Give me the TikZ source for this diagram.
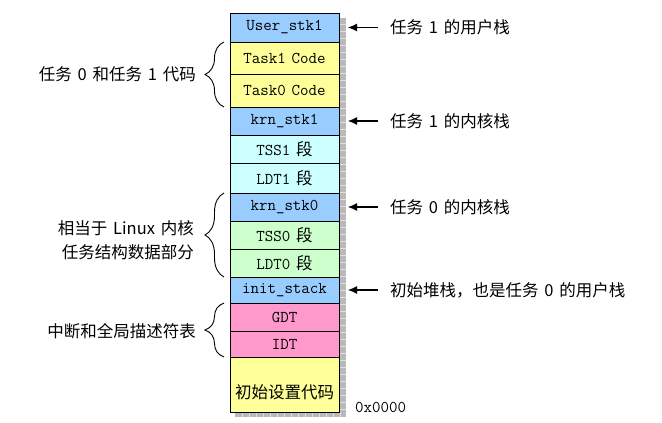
\documentclass[tikz,border=0pt]{standalone}
\usepackage{fontspec}
\setmainfont{Noto Sans CJK SC}
\newfontfamily\monofont{Latin Modern Mono}
\usetikzlibrary{positioning, arrows.meta, decorations.pathreplacing}
\definecolor{stkblue}{RGB}{153,204,255}
\definecolor{codeyellow}{RGB}{255,255,153}
\definecolor{segcyan}{RGB}{204,255,255}
\definecolor{seggreen}{RGB}{204,255,204}
\definecolor{tabpink}{RGB}{255,153,204}
\newcommand{\mono}[1]{{\monofont #1}}
\newcommand{\txtsize}{\fontsize{16.5}{20}\selectfont\spaceskip=0.35em\relax}
\newcommand{\twosize}{\fontsize{16.5}{24}\selectfont\spaceskip=0.35em\relax}

\begin{document}
\begin{tikzpicture}[x=1pt, y=-1pt, font=\txtsize,
	cell/.style={draw, line width=1pt, minimum width=109pt, inner sep=0pt, outer sep=0pt, font=\txtsize},
	note/.style={inner sep=0pt},
	pointer/.style={-{Latex[length=9pt,width=8pt]}, line width=1.1pt},
	span/.style={decorate, decoration={brace, amplitude=19pt}, line width=0.9pt}]
	\useasboundingbox (0,0) rectangle (662,423);
	\fill[gray!55] (235,18) rectangle (346,417);
	\foreach \y in {24,31,...,410} \draw[gray!25] (339,\y) -- (346,\y);
	\foreach \x in {242,249,...,340} \draw[gray!25] (\x,412) -- (\x,417);

	\node [cell, fill=stkblue, minimum height=29pt, anchor=north] (ustk1) at (284.5,13) {\mono{User\_stk1}};
	\node [cell, fill=codeyellow, minimum height=32pt, below=0pt of ustk1] (code1) {\mono{Task1 Code}};
	\node [cell, fill=codeyellow, minimum height=33pt, below=0pt of code1] (code0) {\mono{Task0 Code}};
	\node [cell, fill=stkblue, minimum height=28pt, below=0pt of code0] (kstk1) {\mono{krn\_stk1}};
	\node [cell, fill=segcyan, minimum height=28pt, below=0pt of kstk1] (tss1) {\mono{TSS1} 段};
	\node [cell, fill=segcyan, minimum height=30pt, below=0pt of tss1] (ldt1) {\mono{LDT1} 段};
	\node [cell, fill=stkblue, minimum height=28pt, below=0pt of ldt1] (kstk0) {\mono{krn\_stk0}};
	\node [cell, fill=seggreen, minimum height=28pt, below=0pt of kstk0] (tss0) {\mono{TSS0} 段};
	\node [cell, fill=seggreen, minimum height=28pt, below=0pt of tss0] (ldt0) {\mono{LDT0} 段};
	\node [cell, fill=stkblue, minimum height=26pt, below=0pt of ldt0] (istk) {\mono{init\_stack}};
	\node [cell, fill=tabpink, minimum height=28pt, below=0pt of istk] (gdt) {\mono{GDT}};
	\node [cell, fill=tabpink, minimum height=26pt, below=0pt of gdt] (idt) {\mono{IDT}};
	\node [cell, fill=codeyellow, minimum height=55pt, text height=27pt, text depth=0pt, below=0pt of idt] (setup) {初始设置代码};
	\node [note, anchor=west] (addr) at (355,407) {\mono{0x0000}};

	\node [note, right=51pt of ustk1] (lbustk1) {任务 1 的用户栈};
	\node [note, right=51pt of kstk1] (lbkstk1) {任务 1 的内核栈};
	\node [note, right=51pt of kstk0] (lbkstk0) {任务 0 的内核栈};
	\node [note, right=51pt of istk] (lbistk) {初始堆栈，也是任务 0 的用户栈};
	\draw[pointer] ([xshift=-12pt]lbustk1.west) -- ([xshift=9pt]ustk1.east);
	\draw[pointer] ([xshift=-12pt]lbkstk1.west) -- ([xshift=9pt]kstk1.east);
	\draw[pointer] ([xshift=-12pt]lbkstk0.west) -- ([xshift=9pt]kstk0.east);
	\draw[pointer] ([xshift=-12pt]lbistk.west) -- ([xshift=9pt]istk.east);

	\draw[span] ([xshift=-6pt]code0.south west) -- ([xshift=-6pt]code1.north west);
	\draw[span] ([xshift=-6pt]ldt0.south west) -- ([xshift=-6pt]kstk0.north west);
	\draw[span] ([xshift=-6pt]idt.south west) -- ([xshift=-6pt]gdt.north west);
	\node [note, left=34pt of code1.south west] (lbcode) {任务 0 和任务 1 代码};
	\node [note, align=right, anchor=east, font=\twosize] (lbtask) at (194,240) {相当于 Linux 内核\\任务结构数据部分};
	\node [note, left=34pt of gdt.south west] (lbtab) {中断和全局描述符表};
\end{tikzpicture}
\end{document}
